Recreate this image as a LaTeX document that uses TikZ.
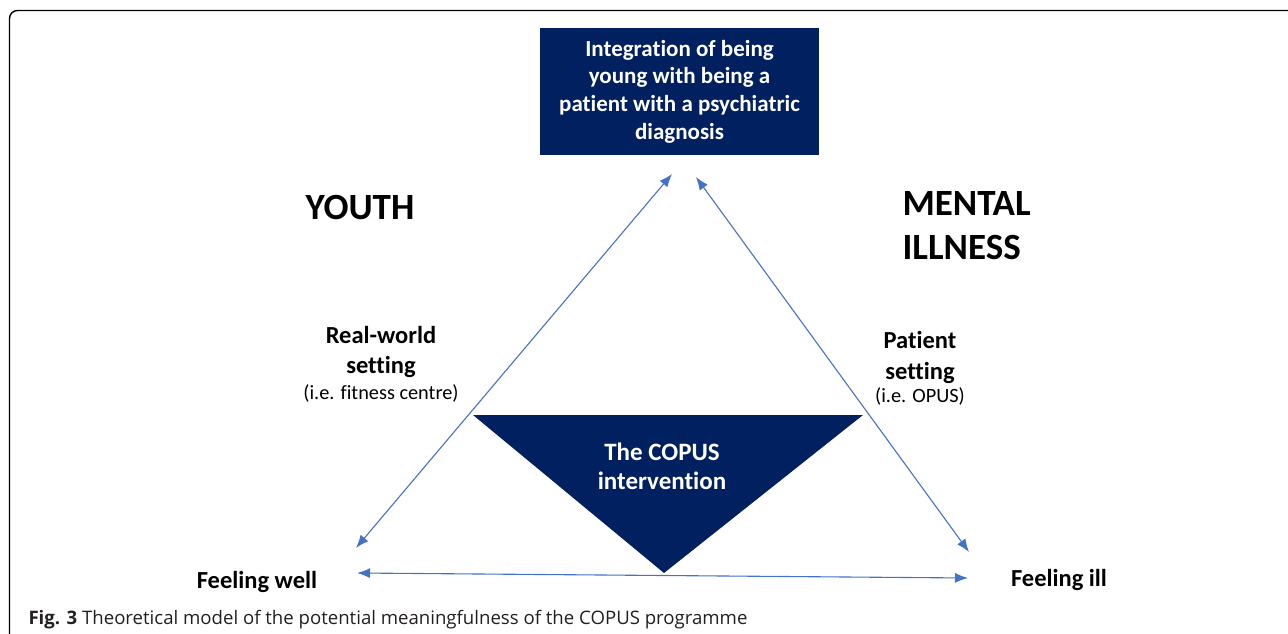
\documentclass[tikz,border=0pt]{standalone}
\usepackage{fontspec}
\setmainfont{Carlito}[Ligatures=NoCommon]
\newfontfamily\capfont{Open Sans}
\usetikzlibrary{arrows.meta}
\definecolor{navy}{HTML}{002060}
\definecolor{arrowblue}{HTML}{4472C4}
\definecolor{capgray}{HTML}{231F20}

\begin{document}
\begin{tikzpicture}[x=1pt,y=-1pt,
  link/.style={draw=arrowblue,line width=1.1pt,
    {Latex[length=13pt,width=10pt]}-{Latex[length=13pt,width=10pt]}},
  heading/.style={font=\fontsize{37}{44}\selectfont\bfseries},
  label/.style={align=center,font=\fontsize{24.5}{30.5}\selectfont\bfseries},
  note/.style={font=\fontsize{20.3}{24}\selectfont},
  inbox/.style={align=center,text=white,font=\fontsize{23}{27.6}\selectfont\bfseries}]
\useasboundingbox (0,0) rectangle (1288,634);
\draw[line width=1.4pt,rounded corners=8pt] (9.5,640) -- (9.5,10.5) -- (1295,10.5);

\node at (679.5,91.5) [fill=navy,minimum width=279pt,minimum height=126pt,inbox] (integ)
  {Integration of being\\young with being a\\patient with a psychiatric\\diagnosis};

\node at (360,208) [heading] (youth) {YOUTH};
\node at (899,226) [heading,anchor=west,align=left] (mental) {MENTAL\\ILLNESS};

\node at (381,352) [label] (real) {Real-world\\setting};
\node at (381,393) [note] (realnote) {(i.e. fitness centre)};
\node at (920,357.5) [label] (patient) {Patient\\setting};
\node at (920,396) [note] (patientnote) {(i.e. OPUS)};

\fill[navy] (473,415) -- (863,415) -- (664,573) -- cycle;
\node at (662,466) [inbox,font=\fontsize{25}{29}\selectfont\bfseries] (copus) {The COPUS\\intervention};

\node at (257,581.5) [label] (well) {Feeling well};
\node at (1059,579.5) [label] (ill) {Feeling ill};

\coordinate (topl) at (672,174);
\coordinate (topr) at (696,177);
\coordinate (wellup) at (356,548);
\coordinate (wellside) at (357,573);
\coordinate (illup) at (969,552);
\coordinate (illside) at (968,578);

\draw[link] (topl) -- (wellup);
\draw[link] (topr) -- (illup);
\draw[link] (wellside) -- (illside);

\node at (25,624) [anchor=base west,text=capgray,font=\capfont\fontsize{18.6}{22}\selectfont] (caption)
  {\textbf{Fig. 3} Theoretical model of the potential meaningfulness of the COPUS programme};
\end{tikzpicture}
\end{document}
